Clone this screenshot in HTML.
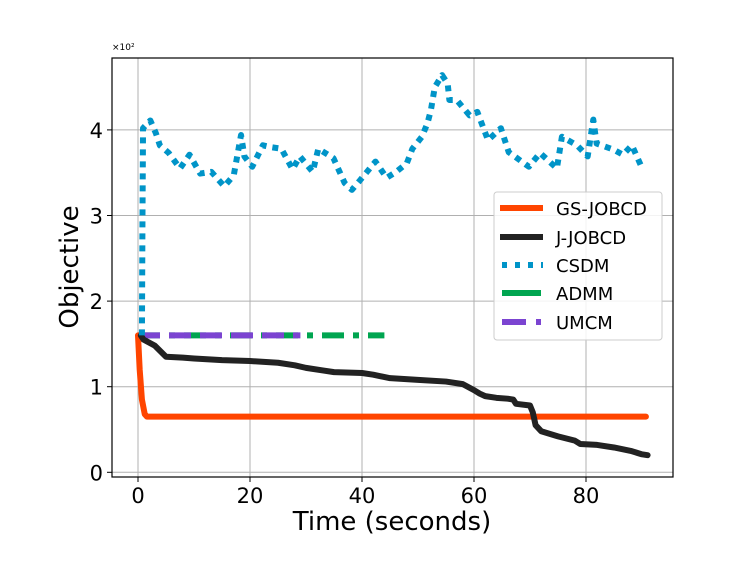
<!DOCTYPE html>
<html><head><meta charset="utf-8"><style>
body{margin:0;background:#fff;}
svg{display:block;font-family:"DejaVu Sans","Liberation Sans",sans-serif;}
</style></head><body>
<svg id="chart" width="747" height="561"></svg>
<script>
const xTicks=[0,20,40,60,80];
const yTicks=[0,1,2,3,4];
const gsX=[0,0.3,0.7,1.2,1.6,2,90.7];
const gsY=[160,120,85,68,65,65,65];
const jX=[0.5,1,3,5,8,10,15,20,25,28,30,33,35,40,42,45,50,55,58,60,61,62,64,66,67,67.5,70,70.5,71,72,75,78,79,82,85,88,90,91];
const jY=[160,155,148,135,134,133,131,130,128,125,122,119,117,116,114,110,108,106,103,96,92,89,87,86,85,80,78,70,55,48,42,37,33,32,29,25,21,20];
const csX=[0.7,0.8,0.9,2.2,3.2,3.9,5.5,7.5,9.2,11.1,13.1,15.4,17.1,18.4,19,20.4,22.3,23.6,25.6,27.6,28.9,31.2,32.2,34.9,36.9,38.2,39.5,42.4,44.4,46.1,48,49,50.7,51.7,52.3,53,54.3,55.3,55.6,56.9,59.2,60.6,62.5,64.8,66.2,69.8,71.8,74.8,75.7,78.4,80.3,81.3,81.9,84.9,86.6,88.2,89.9];
const csY=[160,300,402,411,396,382,373,355,371,349,351,334,347,394,369,357,382,380,378,354,369,351,378,367,338,330,340,363,344,351,361,378,392,408,423,450,464,454,435,435,417,421,388,402,374,357,373,355,392,382,369,412,384,377,371,382,357];
const admmX=[0,44];
const admmY=[160,160];
const umcmX=[0,29];
const umcmY=[160,160];

const NS="http://www.w3.org/2000/svg";
const svg=document.getElementById('chart');
const L=112,R=673,T=58,B=477;
const sx=v=>138+v*5.6;
const sy=v=>472.3-v*0.856;
function mk(tag,attrs,parent){const e=document.createElementNS(NS,tag);for(const k in attrs)e.setAttribute(k,attrs[k]);(parent||svg).appendChild(e);return e;}
xTicks.forEach(t=>{
  const g=mk('line',{x1:sx(t),x2:sx(t),y1:T,y2:B,stroke:'#b0b0b0','stroke-width':1});
  
  
  const tk=mk('line',{x1:sx(t),x2:sx(t),y1:B,y2:B+5,stroke:'#000'});
  
  
  const tx=mk('text',{x:sx(t),y:B+26,'text-anchor':'middle','font-size':21});
  tx.textContent=t;
  
  
});
yTicks.forEach(t=>{
  const y=sy(t*100);
  const g=mk('line',{x1:L,x2:R,y1:y,y2:y,stroke:'#b0b0b0','stroke-width':1});
  
  
  const tk=mk('line',{x1:L-5,x2:L,y1:y,y2:y,stroke:'#000'});
  
  
  const tx=mk('text',{x:L-9,y:y+8,'text-anchor':'end','font-size':21});
  tx.textContent=t;
  
  
});
function series(xs,ys,color,dash,name){
  const p=mk('polyline',{points:xs.map((x,i)=>sx(x)+','+sy(ys[i])).join(' '),fill:'none',stroke:color,'stroke-width':6,'stroke-linejoin':'round','stroke-dasharray':dash||'none','stroke-linecap':dash?'butt':'round'});
  
  
}
series(admmX,admmY,'#00a550','22,9,6,9','admm-line');
series(umcmX,umcmY,'#7b44d1','22,9','umcm-line');
series(gsX,gsY,'#ff4500',null,'gs-jobcd-line');
series(jX,jY,'#222',null,'j-jobcd-line');
series(csX,csY,'#0094c8','6,6','csdm-line');
const fr=mk('rect',{x:L,y:T,width:R-L,height:B-T,fill:'none',stroke:'#000','stroke-width':1.2});


</script>
<div style="position:absolute;left:0;top:0;width:747px;height:561px;pointer-events:none">
<svg width="747" height="561" style="position:absolute;left:0;top:0">
<text x="112" y="50" font-size="9" font-family="DejaVu Sans,sans-serif">×10²</text>
<text x="392" y="530" text-anchor="middle" font-size="26" font-family="DejaVu Sans,sans-serif">Time (seconds)</text>
<text transform="translate(78,267) rotate(-90)" text-anchor="middle" font-size="26" font-family="DejaVu Sans,sans-serif">Objective</text>
<g font-family="DejaVu Sans,sans-serif" font-size="18">
<rect x="494" y="192" width="168" height="148" rx="3" fill="#fff" fill-opacity="0.85" stroke="#ccc"/>
<g><line x1="500" x2="543" y1="208" y2="208" stroke="#ff4500" stroke-width="6"/><text x="556" y="215">GS-JOBCD</text></g>
<g><line x1="500" x2="543" y1="237" y2="237" stroke="#222" stroke-width="6"/><text x="556" y="244">J-JOBCD</text></g>
<g><line x1="502" x2="543" y1="265" y2="265" stroke="#0094c8" stroke-width="6" stroke-dasharray="5,8"/><text x="556" y="272">CSDM</text></g>
<g><line x1="502" x2="541" y1="293" y2="293" stroke="#00a550" stroke-width="6"/><text x="556" y="300">ADMM</text></g>
<g><line x1="502" x2="541" y1="322" y2="322" stroke="#7b44d1" stroke-width="6" stroke-dasharray="24,10"/><text x="556" y="329">UMCM</text></g>
</g>
</svg>
</div>
</body></html>
